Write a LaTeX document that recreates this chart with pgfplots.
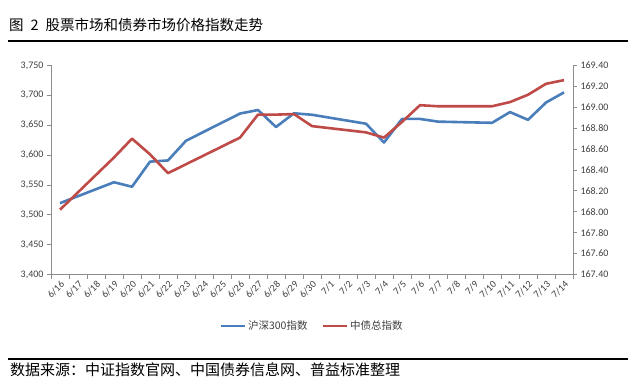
\documentclass[border=0pt]{standalone}
\usepackage{pgfplots}
\pgfplotsset{compat=1.18}
\usepackage{fontspec}
\setmainfont{Carlito}
\newfontfamily\cjk{Noto Sans CJK SC}
\definecolor{blueL}{HTML}{4A7EBB}
\definecolor{redL}{HTML}{BE4B48}
\definecolor{axgray}{HTML}{8C8C8C}
\definecolor{txt}{HTML}{404040}

\begin{document}
\begin{tikzpicture}[x=1bp,y=1bp]
\useasboundingbox (0,0) rectangle (632,383);
\fill[white] (0,0) rectangle (632,383);
\node[anchor=west, inner sep=0] at (9,358.5) {\cjk\fontsize{14.5bp}{17bp}\selectfont 图\hspace{7bp}2\hspace{7bp}股票市场和债券市场价格指数走势};
\draw[line width=1.2bp] (8,342) -- (628,342);
\draw[line width=1.2bp] (8,24) -- (628,24);
\node[anchor=west, inner sep=0] at (10,13) {\cjk\fontsize{15bp}{18bp}\selectfont 数据来源：中证指数官网、中国债券信息网、普益标准整理};

\begin{axis}[
  at={(51bp,108.5bp)}, anchor=south west, scale only axis,
  width=522bp, height=209bp,
  xmin=-0.5, xmax=28.5, ymin=3400, ymax=3750,
  axis x line*=bottom, axis y line*=left,
  axis line style={draw=axgray, line width=0.8bp},
  every tick/.style={axgray, line width=0.8bp},
  tick align=outside,
  major tick length=4bp, minor tick length=4bp,
  xtick={0,...,28},
  xticklabels={6/16,6/17,6/18,6/19,6/20,6/21,6/22,6/23,6/24,6/25,6/26,6/27,6/28,6/29,6/30,7/1,7/2,7/3,7/4,7/5,7/6,7/7,7/8,7/9,7/10,7/11,7/12,7/13,7/14},
  minor xtick={-0.5,0.5,...,28.5},
  major x tick style={draw=none},
  xticklabel style={rotate=45, anchor=north east, inner sep=1bp, font=\fontsize{10bp}{12bp}\selectfont, text=txt},
  ytick={3400,3450,...,3750},
  yticklabel style={font=\fontsize{10bp}{12bp}\selectfont, text=txt},
  /pgf/number format/assume math mode=true,
  /pgf/number format/1000 sep={,},
  legend style={at={(0.5,-0.246)}, anchor=center, draw=none, fill=none,
    legend columns=2, font=\cjk\fontsize{10.5bp}{12bp}\selectfont, text=txt,
    /tikz/every even column/.append style={column sep=12bp}},
  legend image code/.code={\draw[#1] (0bp,0bp) -- (24bp,0bp);},
]
\addplot[blueL, line width=2.6bp, line join=round] coordinates {
(0,3519.5) (3,3554.5) (4,3547) (5,3589) (6,3591) (7,3624) (10,3669.5) (11,3675.5) (12,3647) (13,3670) (14,3667.5) (17,3652.5) (18,3621) (19,3660.5) (20,3660.5) (21,3656) (24,3654) (25,3672) (26,3659) (27,3688) (28,3705)
};
\addlegendentry{沪深300指数}
\addlegendimage{redL, line width=2.6bp}
\addlegendentry{中债总指数}
\end{axis}

\begin{axis}[
  at={(51bp,108.5bp)}, anchor=south west, scale only axis,
  width=522bp, height=209bp,
  xmin=-0.5, xmax=28.5, ymin=167.4, ymax=169.4,
  axis x line=none, axis y line*=right,
  axis line style={draw=axgray, line width=0.8bp},
  every tick/.style={axgray, line width=0.8bp},
  tick align=outside,
  major tick length=4bp,
  ytick={167.4,167.6,...,169.41},
  yticklabel style={font=\fontsize{10bp}{12bp}\selectfont, text=txt, anchor=west},
  /pgf/number format/assume math mode=true,
  /pgf/number format/.cd, fixed, fixed zerofill, precision=2,
]
\addplot[redL, line width=2.6bp, line join=round] coordinates {
(0,168.02) (3,168.52) (4,168.70) (5,168.55) (6,168.37) (7,168.455) (10,168.71) (11,168.93) (12,168.93) (13,168.935) (14,168.82) (17,168.76) (18,168.71) (19,168.86) (20,169.02) (21,169.01) (24,169.01) (25,169.05) (26,169.12) (27,169.225) (28,169.26)
};
\end{axis}
\end{tikzpicture}
\end{document}
